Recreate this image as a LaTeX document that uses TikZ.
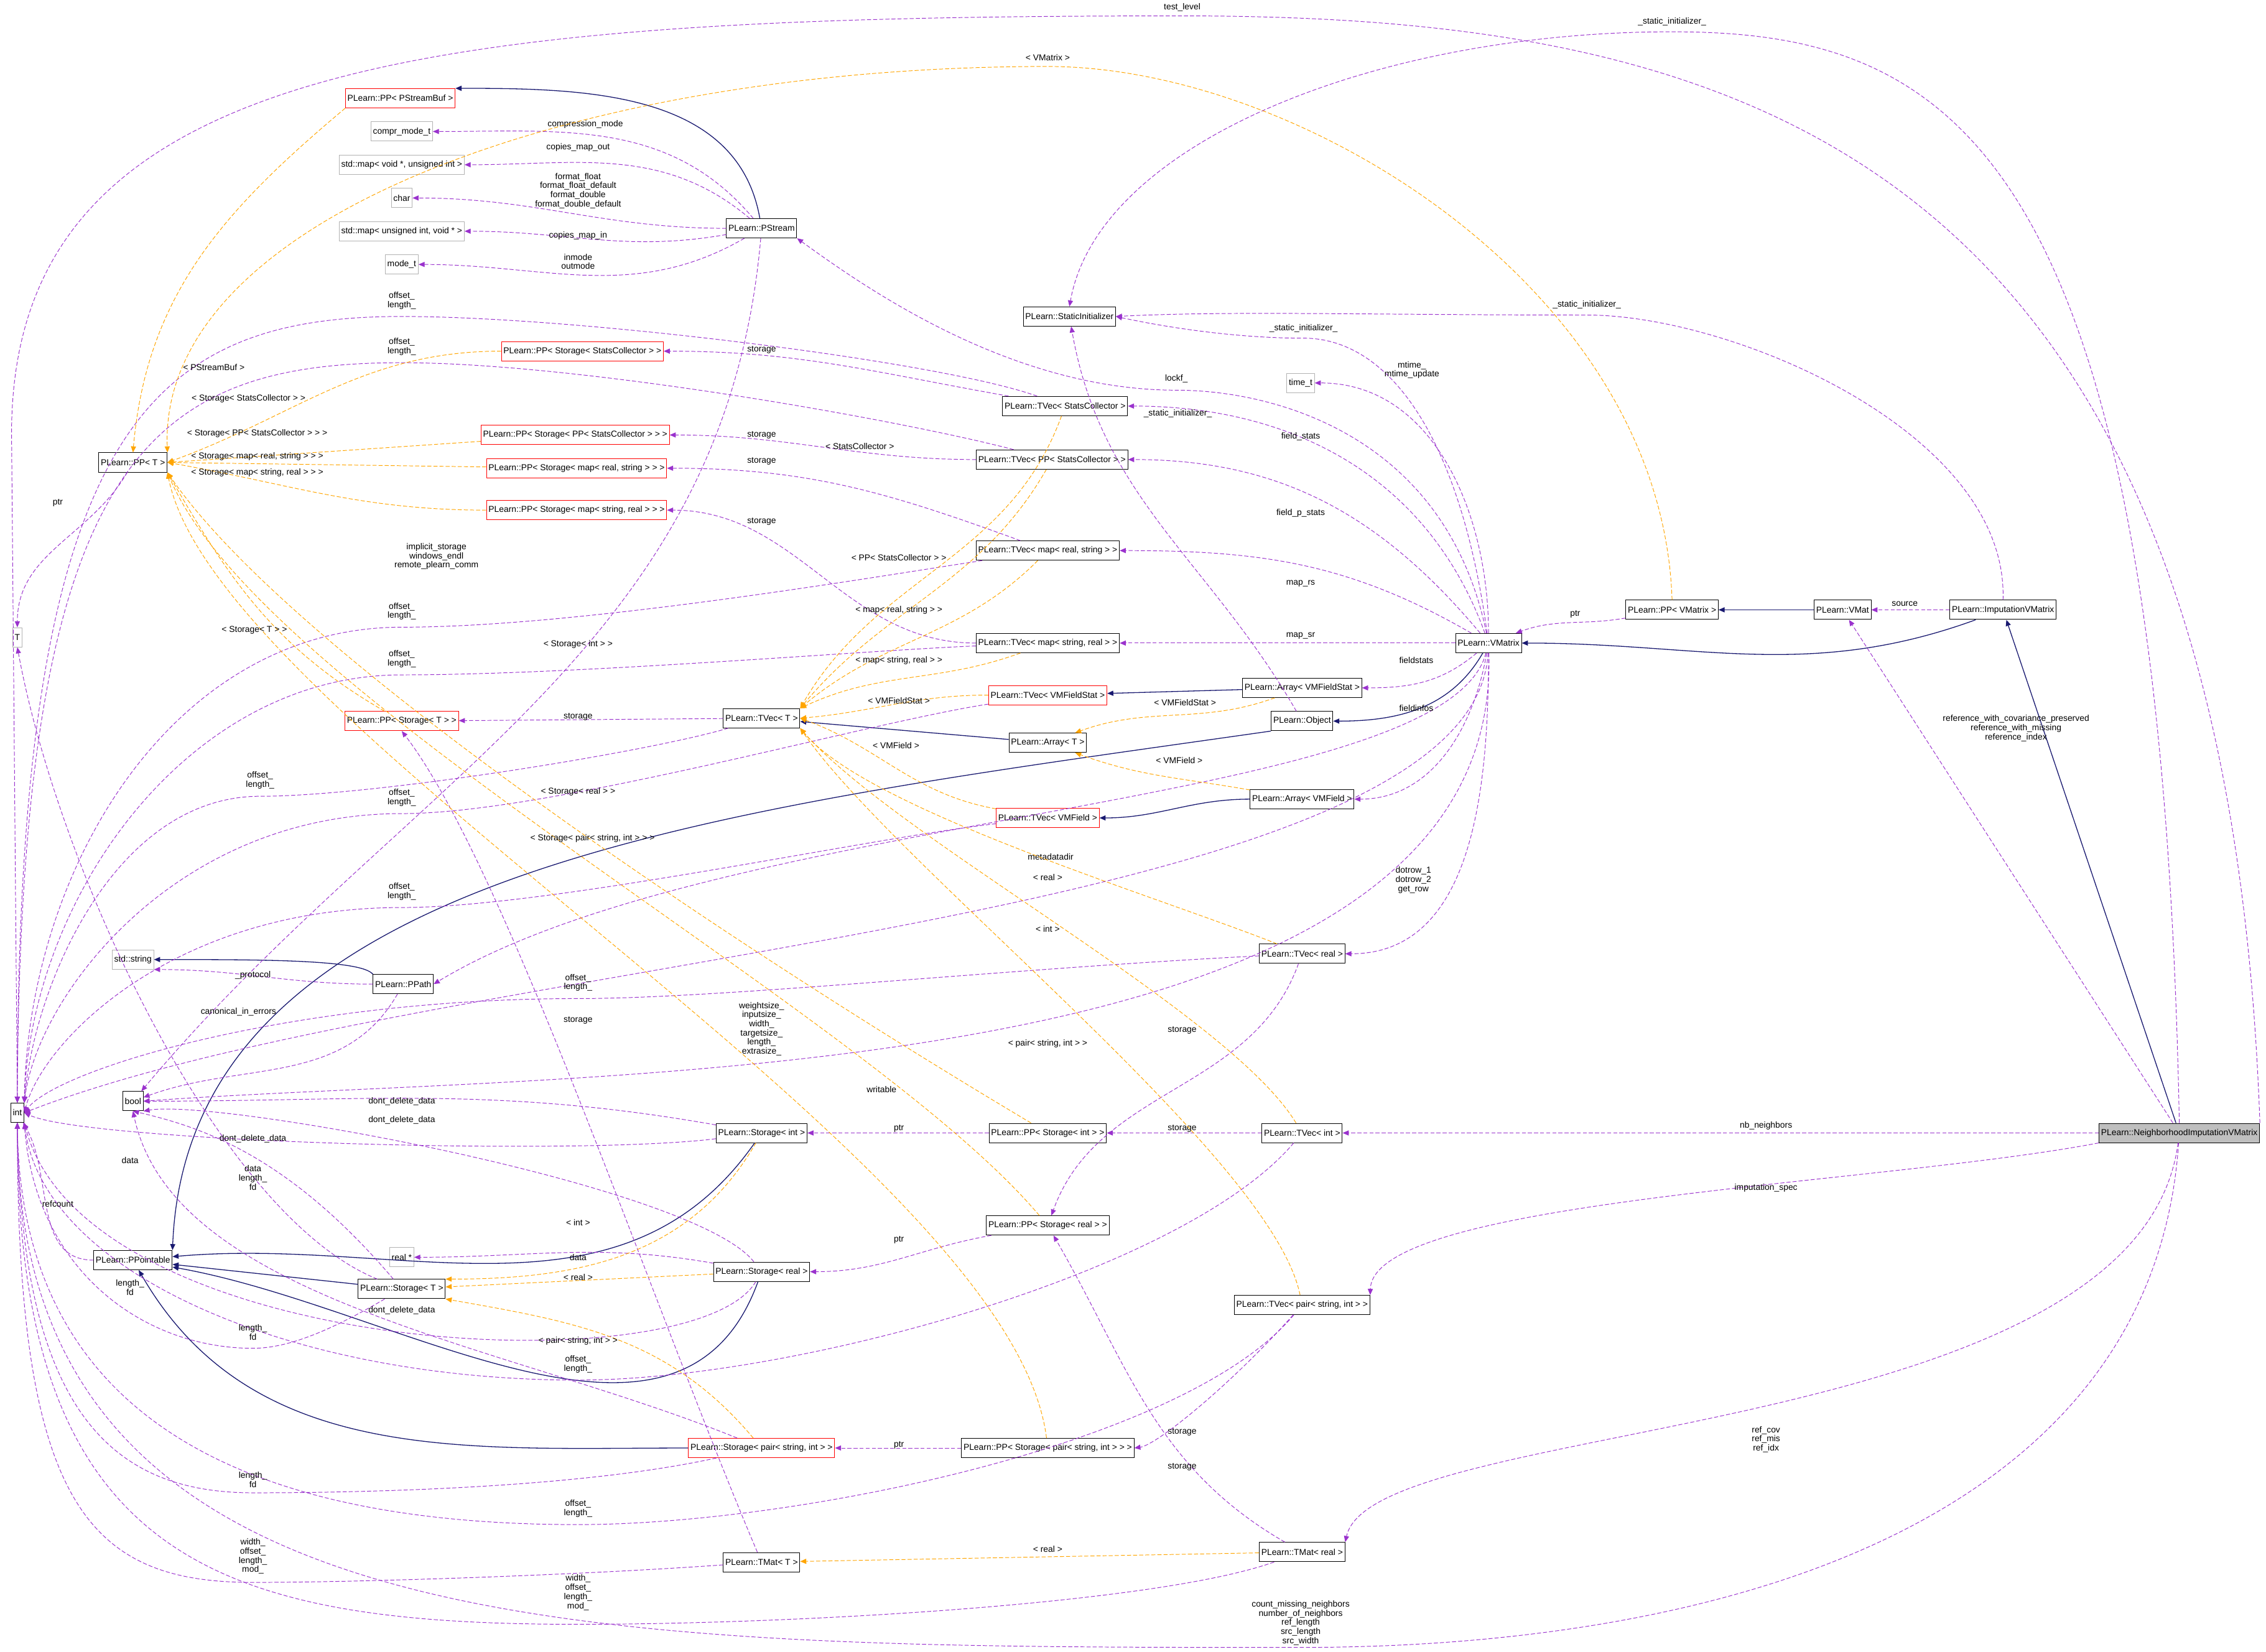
\documentclass[tikz,border=0pt]{standalone}
\usepackage{fontspec}
\setmainfont{Liberation Sans}
\usetikzlibrary{arrows.meta}
\begin{document}
\begin{tikzpicture}[x=0.05cm,y=-0.05cm,
 font=\fontsize{8.5}{9.5}\selectfont,
 nd/.style={draw=black,fill=white,inner sep=2pt,minimum height=19pt,line width=0.6pt},
 rd/.style={nd,draw=red},
 gd/.style={nd,draw=gray!60},
 lb/.style={align=center,inner sep=0pt,font=\fontsize{8.5}{9}\selectfont},
 pe/.style={draw={rgb,255:red,154;green,50;blue,205},dash pattern=on 4pt off 2pt,line width=0.6pt,-{Triangle[length=6pt,width=5pt]}},
 oe/.style={draw={rgb,255:red,255;green,165;blue,0},dash pattern=on 4pt off 2pt,line width=0.6pt,-{Triangle[length=6pt,width=5pt]}},
 ne/.style={draw={rgb,255:red,25;green,25;blue,112},line width=0.8pt,-{Triangle[length=6pt,width=5pt]}}]
\useasboundingbox (0,0) rectangle (1568,1143);
% nodes
\node[rd] (ppsb) at (277,68) {PLearn::PP< PStreamBuf >};
\node[gd] (compr) at (278,91) {compr\_mode\_t};
\node[gd] (mapvoid) at (278,114) {std::map< void *, unsigned int >};
\node[gd] (char) at (278,137) {char};
\node[gd] (mapuint) at (278,160) {std::map< unsigned int, void * >};
\node[gd] (modet) at (278,183) {mode\_t};
\node[nd] (pstream) at (527,158) {PLearn::PStream};
\node[nd] (statinit) at (740,219) {PLearn::StaticInitializer};
\node[gd] (timet) at (900,265) {time\_t};
\node[rd] (ppssc) at (403,243) {PLearn::PP< Storage< StatsCollector > >};
\node[nd] (tvsc) at (737,281) {PLearn::TVec< StatsCollector >};
\node[nd] (ppT) at (92,320) {PLearn::PP< T >};
\node[rd] (ppsppsc) at (398,301) {PLearn::PP< Storage< PP< StatsCollector > > >};
\node[nd] (tvppsc) at (728,318) {PLearn::TVec< PP< StatsCollector > >};
\node[rd] (ppsmrs) at (399,324) {PLearn::PP< Storage< map< real, string > > >};
\node[rd] (ppsmsr) at (399,353) {PLearn::PP< Storage< map< string, real > > >};
\node[nd] (tvmrs) at (725,381) {PLearn::TVec< map< real, string > >};
\node[gd] (T) at (12,441) {T};
\node[nd] (tvmsr) at (725,445) {PLearn::TVec< map< string, real > >};
\node[nd] (vmatrix) at (1030,445) {PLearn::VMatrix};
\node[nd] (ppvm) at (1157,422) {PLearn::PP< VMatrix >};
\node[nd] (vmat) at (1275,422) {PLearn::VMat};
\node[nd] (imput) at (1386,422) {PLearn::ImputationVMatrix};
\node[nd] (arrvmfs) at (901,476) {PLearn::Array< VMFieldStat >};
\node[rd] (tvvmfs) at (725,481) {PLearn::TVec< VMFieldStat >};
\node[rd] (ppsT) at (278,499) {PLearn::PP< Storage< T > >};
\node[nd] (tvT) at (527,497) {PLearn::TVec< T >};
\node[nd] (object) at (901,499) {PLearn::Object};
\node[nd] (arrT) at (725,514) {PLearn::Array< T >};
\node[nd] (arrvmf) at (901,553) {PLearn::Array< VMField >};
\node[rd] (tvvmf) at (725,566) {PLearn::TVec< VMField >};
\node[nd] (tvreal) at (901,660) {PLearn::TVec< real >};
\node[gd] (stdstr) at (92,664) {std::string};
\node[nd] (ppath) at (279,681) {PLearn::PPath};
\node[nd] (int) at (12,770) {int};
\node[nd] (bool) at (92,762) {bool};
\node[nd] (storint) at (527,784) {PLearn::Storage< int >};
\node[nd] (ppsint) at (725,784) {PLearn::PP< Storage< int > >};
\node[nd] (tvint) at (901,784) {PLearn::TVec< int >};
\node[nd,fill=gray!50] (neigh) at (1508,784) {PLearn::NeighborhoodImputationVMatrix};
\node[nd] (ppsreal) at (725,848) {PLearn::PP< Storage< real > >};
\node[gd] (realp) at (278,870) {real *};
\node[nd] (ppoint) at (92,872) {PLearn::PPointable};
\node[nd] (storreal) at (527,880) {PLearn::Storage< real >};
\node[nd] (storT) at (278,892) {PLearn::Storage< T >};
\node[nd] (tvpair) at (901,903) {PLearn::TVec< pair< string, int > >};
\node[rd] (storpair) at (527,1002) {PLearn::Storage< pair< string, int > >};
\node[nd] (ppspair) at (725,1002) {PLearn::PP< Storage< pair< string, int > > >};
\node[nd] (tmatreal) at (901,1074) {PLearn::TMat< real >};
\node[nd] (tmatT) at (527,1081) {PLearn::TMat< T >};
% navy
\draw[ne] (pstream) to[out=100,in=0] (ppsb.north east);
\draw[ne] (imput) to[out=200,in=0] (vmatrix);
\draw[ne] (neigh) -- (imput);
\draw[ne] (vmat) -- (ppvm);
\draw[ne] (vmatrix) to[out=-120,in=0] (object);
\draw[ne] (object.south west) .. controls (500,560) and (130,600) .. (ppoint.north east);
\draw[ne] (arrvmfs) -- (tvvmfs);
\draw[ne] (arrT) -- (tvT);
\draw[ne] (arrvmf) to[out=180,in=0] (tvvmf);
\draw[ne] (ppath.north west) .. controls (250,664) and (180,664) .. (stdstr.east);
\draw[ne] (storint) to[out=235,in=5] (ppoint);
\draw[ne] (storT) -- (ppoint);
\draw[ne] (storreal) to[out=250,in=-10] (ppoint);
\draw[ne] (storpair) to[out=180,in=-60] (ppoint);
% purple from PStream
\draw[pe] (pstream) to[out=130,in=0] (compr);
\draw[pe] (pstream) to[out=140,in=0] (mapvoid);
\draw[pe] (pstream) to[out=180,in=0] (char);
\draw[pe] (pstream) to[out=190,in=0] (mapuint);
\draw[pe] (pstream) to[out=210,in=0] (modet);
\draw[pe] (pstream) to[out=-95,in=50] (bool);
\node[lb] at (405,86) {compression\_mode};
\node[lb] at (400,102) {copies\_map\_out};
\node[lb] at (400,132) {format\_float\\format\_float\_default\\format\_double\\format\_double\_default};
\node[lb] at (400,163) {copies\_map\_in};
\node[lb] at (400,181) {inmode\\outmode};
\node[lb] at (302,385) {implicit\_storage\\windows\_endl\\remote\_plearn\_comm};
% purple from VMatrix
\draw[pe] (vmatrix) .. controls (1000,300) and (880,270) .. (814,270) .. controls (700,270) and (600,200) .. (pstream.south east);
\draw[pe] (vmatrix) .. controls (1010,300) and (960,234) .. (902,234) .. controls (850,234) and (800,225) .. (statinit.east);
\draw[pe] (object) to[out=120,in=-80] (statinit);
\draw[pe] (imput.north) .. controls (1390,300) and (1200,218) .. (1098,218) .. controls (950,218) and (850,215) .. (statinit.east);
\draw[pe] (neigh.north) .. controls (1495,100) and (1350,22) .. (1157,22) .. controls (950,22) and (760,100) .. (statinit.north);
\draw[pe] (neigh.north east) .. controls (1540,100) and (1200,11) .. (818,11) .. controls (300,11) and (8,40) .. (8,300) -- (int.north);
\draw[pe] (vmatrix) to[out=90,in=0] (timet);
\draw[pe] (vmatrix) to[out=110,in=0] (tvsc);
\draw[pe] (vmatrix) to[out=130,in=0] (tvppsc);
\draw[pe] (vmatrix) to[out=150,in=0] (tvmrs);
\draw[pe] (vmatrix) -- (tvmsr);
\draw[pe] (vmatrix) to[out=-140,in=0] (arrvmfs);
\draw[pe] (vmatrix) to[out=-100,in=0] (arrvmf);
\draw[pe] (vmatrix) to[out=-90,in=0] (tvreal);
\draw[pe] (vmatrix) .. controls (1000,560) and (500,560) .. (ppath.east);
\draw[pe] (vmatrix) .. controls (1020,640) and (300,660) .. (int.east);
\draw[pe] (vmatrix) .. controls (1040,760) and (400,740) .. (bool.east);
\draw[pe] (imput) -- (vmat);
\draw[pe] (ppvm) to[out=190,in=20] (vmatrix);
\draw[pe] (neigh) -- (vmat);
\draw[pe] (neigh) -- (tvint);
\draw[pe] (neigh.south west) .. controls (1300,820) and (950,830) .. (tvpair.north east);
\draw[pe] (neigh) .. controls (1480,1000) and (950,980) .. (tmatreal.north east);
\draw[pe] (neigh) .. controls (1490,1050) and (1200,1140) .. (900,1140) .. controls (400,1140) and (12,1140) .. (int.south);
\node[lb] at (818,5) {test\_level};
\node[lb] at (1157,15) {\_static\_initializer\_};
\node[lb] at (1098,211) {\_static\_initializer\_};
\node[lb] at (902,227) {\_static\_initializer\_};
\node[lb] at (977,256) {mtime\_\\mtime\_update};
\node[lb] at (814,262) {lockf\_};
\node[lb] at (815,286) {\_static\_initializer\_};
\node[lb] at (900,302) {field\_stats};
\node[lb] at (900,355) {field\_p\_stats};
\node[lb] at (900,404) {map\_rs};
\node[lb] at (900,440) {map\_sr};
\node[lb] at (1090,425) {ptr};
\node[lb] at (1318,418) {source};
\node[lb] at (980,457) {fieldstats};
\node[lb] at (980,490) {fieldinfos};
\node[lb] at (1395,504) {reference\_with\_covariance\_preserved\\reference\_with\_missing\\reference\_index};
\node[lb] at (727,593) {metadatadir};
\node[lb] at (978,609) {dotrow\_1\\dotrow\_2\\get\_row};
\node[lb] at (527,712) {weightsize\_\\inputsize\_\\width\_\\targetsize\_\\length\_\\extrasize\_};
\node[lb] at (610,754) {writable};
\node[lb] at (1222,779) {nb\_neighbors};
\node[lb] at (1222,822) {imputation\_spec};
\node[lb] at (1222,996) {ref\_cov\\ref\_mis\\ref\_idx};
\node[lb] at (900,1123) {count\_missing\_neighbors\\number\_of\_neighbors\\ref\_length\\src\_length\\src\_width};
% TVec storage / offset
\draw[pe] (tvsc) to[out=170,in=0] (ppssc);
\draw[pe] (tvsc) .. controls (650,250) and (400,219) .. (278,219) .. controls (100,219) and (12,300) .. (int.north);
\draw[pe] (tvppsc) to[out=180,in=0] (ppsppsc);
\draw[pe] (tvppsc) .. controls (620,290) and (400,251) .. (278,251) .. controls (100,251) and (14,320) .. (int.north);
\draw[pe] (tvmrs) to[out=160,in=0] (ppsmrs);
\draw[pe] (tvmrs) .. controls (600,400) and (400,434) .. (278,434) .. controls (120,434) and (20,600) .. (int.north east);
\draw[pe] (tvmsr) to[out=180,in=0] (ppsmsr);
\draw[pe] (tvmsr) .. controls (600,450) and (400,467) .. (278,467) .. controls (130,467) and (22,620) .. (int.north east);
\draw[pe] (tvT) -- (ppsT);
\draw[pe] (tvT) .. controls (450,520) and (260,551) .. (180,551) .. controls (80,551) and (24,680) .. (int.north east);
\draw[pe] (tvvmfs) .. controls (600,500) and (380,563) .. (278,563) .. controls (120,563) and (26,690) .. (int.north east);
\draw[pe] (tvvmf) .. controls (600,580) and (380,628) .. (278,628) .. controls (120,628) and (30,720) .. (int.east);
\draw[pe] (tvreal) to[out=-110,in=70] (ppsreal);
\draw[pe] (tvreal) .. controls (700,670) and (500,691) .. (400,691) .. controls (200,691) and (40,740) .. (int.east);
\draw[pe] (tvint) -- (ppsint);
\draw[pe] (tvint) .. controls (820,880) and (550,955) .. (400,955) .. controls (200,955) and (30,880) .. (int.south east);
\draw[pe] (tvpair) .. controls (850,960) and (800,1000) .. (ppspair.east);
\draw[pe] (tvpair) .. controls (820,1000) and (550,1055) .. (400,1055) .. controls (200,1055) and (15,1000) .. (int.south);
\draw[pe] (ppT) to[out=-120,in=90] (T);
\draw[pe] (ppsint) -- (storint);
\draw[pe] (ppsreal) to[out=190,in=0] (storreal);
\draw[pe] (ppspair) -- (storpair);
\draw[pe] (storint) to[out=170,in=0] (bool);
\draw[pe] (storint) .. controls (400,800) and (60,790) .. (int.east);
\draw[pe] (storreal) to[out=170,in=0] (realp);
\draw[pe] (storreal) .. controls (480,820) and (150,760) .. (bool.south east);
\draw[pe] (storreal) .. controls (480,960) and (60,940) .. (int.south east);
\draw[pe] (storT) .. controls (150,840) and (40,600) .. (T.south);
\draw[pe] (storT) .. controls (200,800) and (140,780) .. (bool.south);
\draw[pe] (storT) .. controls (230,920) and (200,933) .. (175,933) .. controls (100,933) and (25,880) .. (int.south east);
\draw[pe] (storpair) .. controls (350,930) and (120,900) .. (bool.south);
\draw[pe] (storpair) .. controls (400,1030) and (250,1033) .. (175,1033) .. controls (80,1033) and (15,980) .. (int.south);
\draw[pe] (ppoint) to[out=180,in=-60] (int);
\draw[pe] (ppath) to[out=180,in=0] (stdstr.south east);
\draw[pe] (ppath) to[out=-120,in=20] (bool);
\draw[pe] (tmatT) .. controls (450,900) and (350,600) .. (ppsT.south);
\draw[pe] (tmatT) .. controls (400,1090) and (250,1095) .. (175,1095) .. controls (60,1095) and (12,1040) .. (int.south);
\draw[pe] (tmatreal) to[out=150,in=-60] (ppsreal);
\draw[pe] (tmatreal) .. controls (800,1110) and (550,1124) .. (400,1124) .. controls (150,1124) and (12,1080) .. (int.south);
\node[lb] at (278,208) {offset\_\\length\_};
\node[lb] at (278,240) {offset\_\\length\_};
\node[lb] at (527,242) {storage};
\node[lb] at (527,301) {storage};
\node[lb] at (527,319) {storage};
\node[lb] at (527,361) {storage};
\node[lb] at (40,348) {ptr};
\node[lb] at (278,423) {offset\_\\length\_};
\node[lb] at (278,456) {offset\_\\length\_};
\node[lb] at (400,496) {storage};
\node[lb] at (180,540) {offset\_\\length\_};
\node[lb] at (278,552) {offset\_\\length\_};
\node[lb] at (278,617) {offset\_\\length\_};
\node[lb] at (175,675) {\_protocol};
\node[lb] at (400,680) {offset\_\\length\_};
\node[lb] at (165,700) {canonical\_in\_errors};
\node[lb] at (400,706) {storage};
\node[lb] at (818,713) {storage};
\node[lb] at (278,762) {dont\_delete\_data};
\node[lb] at (278,775) {dont\_delete\_data};
\node[lb] at (175,788) {dont\_delete\_data};
\node[lb] at (622,781) {ptr};
\node[lb] at (818,781) {storage};
\node[lb] at (175,815) {data\\length\_\\fd};
\node[lb] at (90,803) {data};
\node[lb] at (40,833) {refcount};
\node[lb] at (400,870) {data};
\node[lb] at (622,858) {ptr};
\node[lb] at (90,891) {length\_\\fd};
\node[lb] at (278,907) {dont\_delete\_data};
\node[lb] at (175,922) {length\_\\fd};
\node[lb] at (400,944) {offset\_\\length\_};
\node[lb] at (818,991) {storage};
\node[lb] at (622,1000) {ptr};
\node[lb] at (818,1015) {storage};
\node[lb] at (175,1024) {length\_\\fd};
\node[lb] at (400,1044) {offset\_\\length\_};
\node[lb] at (175,1077) {width\_\\offset\_\\length\_\\mod\_};
\node[lb] at (400,1102) {width\_\\offset\_\\length\_\\mod\_};
% orange
\draw[oe] (ppsb.south west) to[out=220,in=85] (ppT.north);
\draw[oe] (ppvm.north) .. controls (1150,200) and (900,46) .. (725,46) .. controls (400,46) and (110,150) .. (ppT.north east);
\draw[oe] (ppssc) to[out=180,in=20] (ppT.east);
\draw[oe] (ppsppsc) -- (ppT.east);
\draw[oe] (ppsmrs) -- (ppT.east);
\draw[oe] (ppsmsr) to[out=180,in=-10] (ppT.east);
\draw[oe] (ppsT) to[out=150,in=-60] (ppT.south east);
\draw[oe] (ppsint) .. controls (500,650) and (200,450) .. (ppT.south east);
\draw[oe] (ppsreal) .. controls (600,700) and (180,480) .. (ppT.south east);
\draw[oe] (ppspair) .. controls (700,800) and (150,500) .. (ppT.south east);
\draw[oe] (tvsc) to[out=-110,in=60] (tvT.north east);
\draw[oe] (tvppsc) to[out=-120,in=50] (tvT.north east);
\draw[oe] (tvmrs) to[out=-135,in=40] (tvT.north east);
\draw[oe] (tvmsr) to[out=200,in=25] (tvT.north east);
\draw[oe] (tvvmfs) to[out=180,in=5] (tvT.east);
\draw[oe] (tvvmf) to[out=170,in=-20] (tvT.east);
\draw[oe] (tvreal) .. controls (800,620) and (600,560) .. (tvT.south east);
\draw[oe] (tvint) .. controls (850,700) and (620,580) .. (tvT.south east);
\draw[oe] (tvpair) .. controls (880,800) and (620,600) .. (tvT.south east);
\draw[oe] (arrvmfs) to[out=200,in=20] (arrT);
\draw[oe] (arrvmf) to[out=170,in=-20] (arrT);
\draw[oe] (storint) to[out=240,in=0] (storT.north east);
\draw[oe] (storreal) -- (storT);
\draw[oe] (storpair) to[out=130,in=-10] (storT.south east);
\draw[oe] (tmatreal) -- (tmatT);
\node[lb] at (725,40) {< VMatrix >};
\node[lb] at (148,254) {< PStreamBuf >};
\node[lb] at (172,276) {< Storage< StatsCollector > >};
\node[lb] at (178,300) {< Storage< PP< StatsCollector > > >};
\node[lb] at (178,316) {< Storage< map< real, string > > >};
\node[lb] at (178,327) {< Storage< map< string, real > > >};
\node[lb] at (595,309) {< StatsCollector >};
\node[lb] at (622,386) {< PP< StatsCollector > >};
\node[lb] at (622,422) {< map< real, string > >};
\node[lb] at (176,436) {< Storage< T > >};
\node[lb] at (400,446) {< Storage< int > >};
\node[lb] at (622,457) {< map< string, real > >};
\node[lb] at (622,485) {< VMFieldStat >};
\node[lb] at (820,486) {< VMFieldStat >};
\node[lb] at (620,516) {< VMField >};
\node[lb] at (816,526) {< VMField >};
\node[lb] at (400,548) {< Storage< real > >};
\node[lb] at (410,580) {< Storage< pair< string, int > > >};
\node[lb] at (725,607) {< real >};
\node[lb] at (725,643) {< int >};
\node[lb] at (725,722) {< pair< string, int > >};
\node[lb] at (400,846) {< int >};
\node[lb] at (400,884) {< real >};
\node[lb] at (400,928) {< pair< string, int > >};
\node[lb] at (725,1072) {< real >};
\end{tikzpicture}
\end{document}
